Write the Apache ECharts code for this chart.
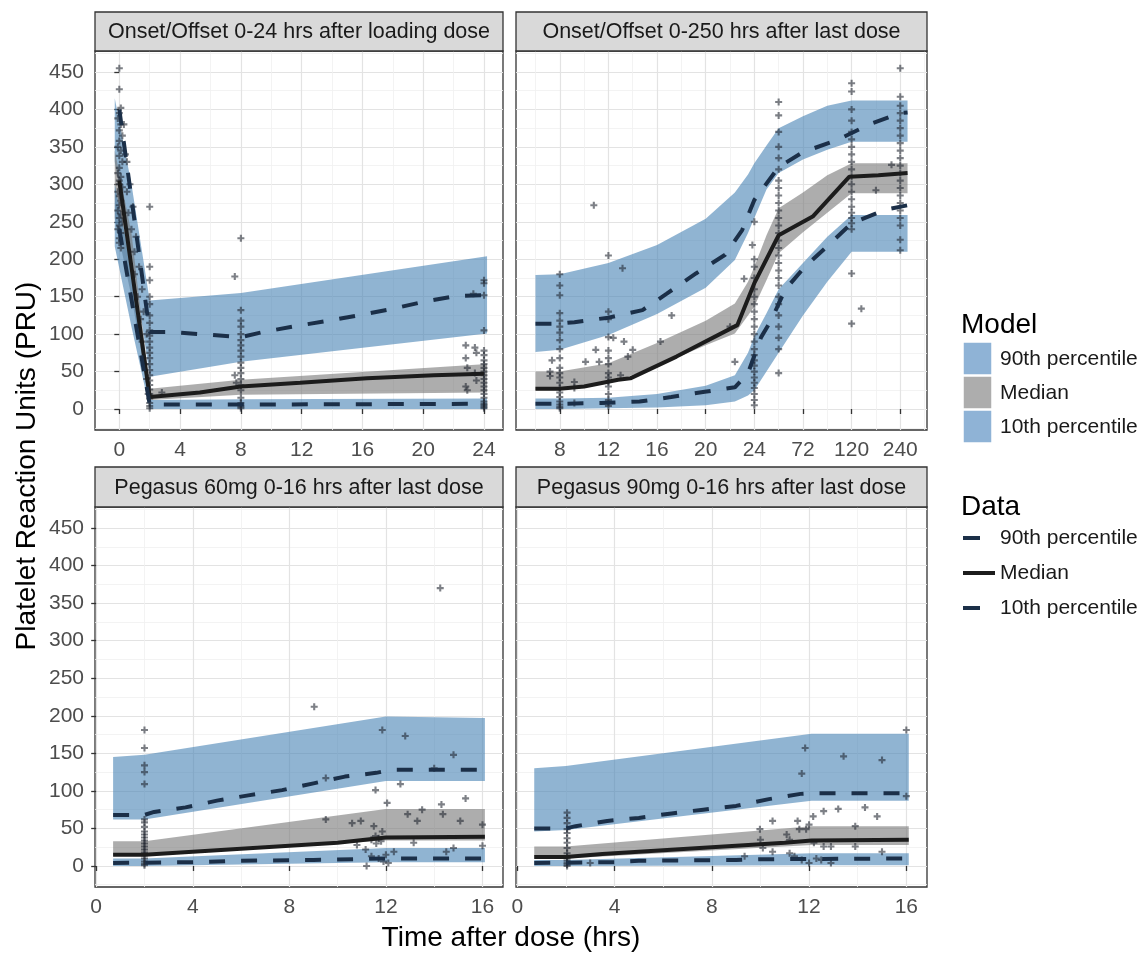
<!DOCTYPE html>
<html>
<head>
<meta charset="utf-8">
<title>Platelet Reaction Units</title>
<script src="https://cdn.jsdelivr.net/npm/echarts@6.0.0/dist/echarts.min.js"></script>
<style>
    html, body { margin: 0; padding: 0; background: #fff; }
    #main { width: 1147px; height: 954px; }
</style>
</head>
<body>
<div id="main"></div>
<script>
    // ---------- data ----------
    var panelTitles = [
        'Onset/Offset 0-24 hrs after loading dose',
        'Onset/Offset 0-250 hrs after last dose',
        'Pegasus 60mg 0-16 hrs after last dose',
        'Pegasus 90mg 0-16 hrs after last dose'
    ];
    var yTicks = [0, 50, 100, 150, 200, 250, 300, 350, 400, 450];
    var yMinor = [-25, 25, 75, 125, 175, 225, 275, 325, 375, 425, 475];

    var p1XTicks = [0, 4, 8, 12, 16, 20, 24];
    var p1XMinor = [2, 6, 10, 14, 18, 22];
    // panel 2 axis is spaced by position, one step per label
    var p2XLabels = ['8', '12', '16', '20', '24', '72', '120', '240'];
    var p2XTicks = [0, 1, 2, 3, 4, 5, 6, 7];
    var p2XMinor = [-0.5, 0.5, 1.5, 2.5, 3.5, 4.5, 5.5, 6.5, 7.5];
    var p34XTicks = [0, 4, 8, 12, 16];
    var p34XMinor = [2, 6, 10, 14];

    // panel 1: model bands
    var p1BandX = [-0.3, 0.8, 2, 8, 24.2];
    var p1M90Lo = [330, 210, 43, 63, 101];
    var p1M90Hi = [415, 300, 145, 155, 204];
    var p1M50Lo = [255, 150, 12, 19, 22];
    var p1M50Hi = [345, 235, 27, 39, 60];
    var p1M10Lo = [217, 110, 0, 0, 0];
    var p1M10Hi = [300, 190, 12, 13, 14];
    // panel 1: data percentiles
    var p1D90X = [0, 2, 3.1, 5.3, 7.4, 8, 9.5, 11.7, 13.8, 16, 17.8, 20, 22.2, 24];
    var p1D90Y = [400, 103, 103, 100, 97, 96, 103, 111, 118, 126, 133, 143, 151, 152];
    var p1D50X = [0, 2, 5.3, 8, 11.9, 16.3, 20.7, 24];
    var p1D50Y = [305, 16, 22, 30, 35, 41, 45, 47];
    var p1D10X = [0, 2, 8, 24];
    var p1D10Y = [240, 6, 6, 7];
    var p1Pts = [
        [0,455],[0,427],[0.1,402],[0,395],[-0.1,388],[0.1,380],[0,372],[0.2,365],[0,358],[-0.1,350],[0.1,345],
        [0,338],[0.2,330],[0,322],[-0.1,315],[0.1,310],[0,305],[0,300],[0.2,296],[-0.1,290],[0,284],[0.1,278],
        [0,272],[-0.1,265],[0.1,260],[0,255],[0.2,250],[0,245],[-0.1,240],[0.1,235],[0,228],[0,222],[0.1,215],
        [0.3,380],[0.4,340],[0.5,330],[0.5,290],[0.6,262],[0.7,300],[0.8,240],[0.9,270],[1,210],[1,180],[1.1,230],
        [1.2,150],[1.3,190],[1.4,120],[1.5,160],[1.5,90],[1.6,130],[1.7,60],[1.8,100],[1.8,40],[1.9,20],
        [2,270],[2,190],[2,172],[2,150],[2,140],[2,125],[2,115],[2,105],[2,98],[2,90],[2,82],[2,75],[2,68],
        [2,60],[2,52],[2,45],[2,38],[2,32],[2,26],[2,20],[2,14],[2,8],[2,4],[2,1],[2.8,22],
        [8,228],[7.6,177],[8,132],[8,118],[8,110],[8,100],[8,92],[8,85],[8,78],[8,70],[8,62],[8,55],[8,48],
        [8,40],[8,32],[8,25],[8,15],[8,8],[8,5],[8,3],[8,1],[7.6,45],[7.7,35],
        [22.8,85],[22.8,68],[22.9,55],[22.8,30],[22.9,25],[23.4,82],[23.5,75],[23.4,48],[23.5,38],[23.3,154],
        [24,172],[24,168],[24,152],[24,105],[24,78],[24,72],[24,65],[24,60],[24,55],[24,50],[24,45],[24,40],
        [24,35],[24,30],[24,25],[24,20],[24,15],[24,10],[24,7],[24,5],[24,3],[24,1]
    ];

    // panel 2: model bands (x in label positions)
    var p2BandX = [-0.5, 0, 1, 2, 3, 3.6, 3.87, 4.0, 4.25, 4.5, 5.0, 5.5, 6.0, 7.15];
    var p2M90Lo = [76, 79, 99, 127, 162, 199, 235, 255, 293, 315, 333, 346, 357, 357];
    var p2M90Hi = [179, 180, 195, 219, 254, 289, 313, 328, 352, 375, 391, 405, 412, 412];
    var p2M50Lo = [25, 25, 34, 57, 85, 101, 125, 137, 172, 208, 236, 262, 288, 288];
    var p2M50Hi = [50, 50, 61, 88, 118, 141, 170, 190, 232, 268, 289, 312, 328, 328];
    var p2M10Lo = [0, 0, 1, 2, 5, 10, 18, 25, 50, 75, 125, 170, 210, 210];
    var p2M10Hi = [14, 14, 15, 20, 31, 45, 75, 97, 128, 160, 195, 230, 259, 259];
    var p2D90X = [-0.5, 0, 0.3, 1, 1.7, 2.2, 2.8, 3.4, 3.75, 4.0, 4.5, 5.0, 5.7, 6.4, 7.0, 7.15];
    var p2D90Y = [114, 114, 116, 122, 132, 154, 181, 206, 239, 279, 323, 343, 359, 381, 395, 396];
    var p2D50X = [-0.5, 0, 0.5, 1.2, 1.45, 2.4, 3.65, 4.0, 4.5, 5.2, 5.95, 6.55, 7.15];
    var p2D50Y = [27, 27, 30, 39, 41, 70, 112, 168, 232, 257, 310, 312, 315];
    var p2D10X = [-0.5, 0, 0.85, 1.64, 2.29, 2.98, 3.6, 3.87, 4.14, 4.35, 4.63, 5.04, 5.56, 6.0, 6.69, 7.15];
    var p2D10Y = [7, 7, 8, 10, 16, 23, 29, 48, 96, 119, 159, 190, 221, 248, 266, 272];
    var p2Pts = [
        [0,180],[0,165],[0,152],[0,128],[0,118],[0,110],[0,102],[0,92],[0,80],[0,68],[0,55],[0,48],[0,42],
        [0,35],[0,28],[0,22],[0,16],[0,10],[0,6],[0,3],[0,1],[-0.2,50],[-0.2,44],[-0.16,65],[0.3,36],[0.3,28],[0.3,8],
        [0.7,272],[0.74,79],[0.53,63],[0.81,63],[1,68],[1.1,95],[1.32,90],[1.5,79],[1.29,188],[2.07,90],
        [1,205],[1,130],[1,120],[1,96],[1,78],[1,60],[1,48],[1,42],[1,36],[1,30],[1,20],[1,12],[1,8],[1,4],
        [1.25,45],[1.4,70],[2.3,125],[3.6,63],[3.79,174],[3.5,110],[3.96,219],
        [4,250],[4,200],[4,190],[4,175],[4,160],[4,150],[4,140],[4,130],[4,120],[4,110],[4,100],[4,90],[4,80],
        [4,72],[4,65],[4,58],[4,50],[4,42],[4,35],[4,28],[4,20],[4,12],[4,5],
        [4.5,410],[4.5,392],[4.5,370],[4.5,350],[4.5,335],[4.5,320],[4.5,305],[4.5,295],[4.5,285],[4.5,275],
        [4.5,265],[4.5,255],[4.5,245],[4.5,235],[4.5,225],[4.5,215],[4.5,205],[4.5,195],[4.5,185],[4.5,175],
        [4.5,165],[4.5,150],[4.5,140],[4.5,125],[4.5,110],[4.5,95],[4.5,80],[4.5,48],
        [6,435],[6,424],[6,400],[6,385],[6,370],[6,360],[6,350],[6,340],[6,330],[6,320],[6,310],[6,300],
        [6,290],[6,280],[6,270],[6,262],[6,255],[6,248],[6,240],[6,181],[6,114],[6.2,134],[6.5,292],[6.82,326],
        [7,455],[7,417],[7,405],[7,395],[7,385],[7,375],[7,365],[7,355],[7,345],[7,335],[7,325],[7,315],
        [7,305],[7,295],[7,285],[7,275],[7,265],[7,255],[7,245],[7,226],[7,212]
    ];

    // panel 3: Pegasus 60mg
    var p3BandX = [0.7, 2, 12, 16.1];
    var p3M90Lo = [62, 62, 113, 113];
    var p3M90Hi = [145, 148, 199, 197];
    var p3M50Lo = [14, 14, 34, 34];
    var p3M50Hi = [33, 33, 76, 76];
    var p3M10Lo = [0, 0, 5, 5];
    var p3M10Hi = [10, 10, 24, 24];
    var p3D90X = [0.7, 2, 2.4, 3.7, 5.0, 6.3, 7.7, 9.0, 10.3, 11.6, 12.2, 16.1];
    var p3D90Y = [68, 68, 72, 78, 87, 94, 101, 110, 119, 124, 128, 128];
    var p3D50X = [0.7, 2, 4, 6, 8, 10, 12, 16.1];
    var p3D50Y = [15, 15, 19, 23, 27, 31, 38, 39];
    var p3D10X = [0.7, 4, 6, 9, 12, 16.1];
    var p3D10Y = [4, 5, 7, 8, 10, 10];
    var p3Pts = [
        [2,181],[2,157],[2,134],[2,125],[2,109],[2,62],[2,58],[2,52],[2,46],[2,42],[2,38],[2,34],[2,30],
        [2,26],[2,22],[2,18],[2,14],[2,10],[2,6],[2,3],[2,1],
        [9.03,212],[14.25,370],[11.85,181],[12.8,173],[14.8,148],[14,130],[9.51,117],[12.6,109],[11.57,101],
        [15.3,90],[12.05,84],[14.3,82],[13.5,75],[12.9,69],[14.36,69],[9.51,62],[10.6,57],[10.96,60],[13.3,60],
        [15.08,60],[16,55],[11.5,53],[11.85,46],[11.57,40],[11.7,37],[11.4,35],[11.8,33],[11.6,30],[10.8,28],
        [13.15,31],[16,27],[14.8,24],[14.5,19],[12.33,19],[11.16,22],[11.4,13],[11.9,6],[11.2,0],[12.1,4],
        [11.7,10],[12,15]
    ];

    // panel 4: Pegasus 90mg
    var p4BandX = [0.7, 2, 12.1, 16.1];
    var p4M90Lo = [46, 48, 87, 87];
    var p4M90Hi = [130, 133, 176, 176];
    var p4M50Lo = [10, 10, 28, 28];
    var p4M50Hi = [26, 26, 53, 53];
    var p4M10Lo = [0, 0, 1, 1];
    var p4M10Hi = [8, 8, 17, 17];
    var p4D90X = [0.7, 2, 2.4, 3.7, 5.0, 6.35, 7.65, 9.0, 10.35, 11.65, 12.2, 16.1];
    var p4D90Y = [50, 50, 53, 60, 64, 70, 75, 80, 89, 96, 97, 97];
    var p4D50X = [0.7, 2, 3.5, 5, 6.5, 8, 9.5, 11, 12.1, 16.1];
    var p4D50Y = [12, 12, 16, 19, 22, 25, 28, 31, 34, 35];
    var p4D10X = [0.7, 4, 5, 9, 10, 16.1];
    var p4D10Y = [4, 5, 7, 8, 9, 10];
    var p4Pts = [
        [2.05,71],[2.05,64],[2.05,57],[2.05,49],[2.05,44],[2.05,37],[2.05,31],[2.05,24],[2.05,17],[2.05,10],
        [2.05,4],[2.05,0],[2.05,2],[2.05,7],[2.05,13],
        [16,181],[11.84,157],[13.42,146],[15,141],[11.7,123],[16,93],[3,4],[9.35,13],[9.98,49],[10.5,60],
        [10,35],[10.1,24],[10.5,19],[11.08,42],[11.2,35],[11.53,60],[11.6,49],[11.88,49],[12,55],[12.17,66],
        [12.6,73],[13.2,76],[14.3,78],[14.8,66],[13.9,53],[12.2,31],[12.6,26],[12.9,26],[13.9,26],[15,19],
        [11.2,17],[11.4,13],[11.7,8],[12,4],[12.9,4],[12.3,10],[12.5,8]
    ];

    // ---------- styles / layout ----------
    var FONT = '"Liberation Sans", Arial, sans-serif';
    var BLUE = 'rgba(70,130,180,0.6)';
    var GREY = 'rgba(118,118,118,0.6)';
    var DASH_COLOR = '#1b2f48';
    var MED_COLOR = '#1c1c1c';
    var PT_COLOR = 'rgba(30,34,45,0.72)';
    var PLUS = 'path://M3.5,0H6.5V3.5H10V6.5H6.5V10H3.5V6.5H0V3.5H3.5Z';

    var grids = [
        {left: 95, top: 51, width: 408, height: 379},
        {left: 516, top: 51, width: 411, height: 379},
        {left: 95, top: 507, width: 408, height: 380},
        {left: 516, top: 507, width: 411, height: 380}
    ];
    var xRanges = [[-1.6, 25.25], [-0.9, 7.55], [-0.05, 16.85], [-0.05, 16.85]];
    var yRange = [-28, 478];

    function zip(xs, ys) {
        return xs.map(function (x, i) { return [x, ys[i]]; });
    }
    function band(xs, lo, hi) {
        return xs.map(function (x, i) { return [x, lo[i], hi[i]]; });
    }

    var panels = [
        {xTicks: p1XTicks, xMinor: p1XMinor, bandX: p1BandX,
         m90: [p1M90Lo, p1M90Hi], m50: [p1M50Lo, p1M50Hi], m10: [p1M10Lo, p1M10Hi],
         d90: zip(p1D90X, p1D90Y), d50: zip(p1D50X, p1D50Y), d10: zip(p1D10X, p1D10Y), pts: p1Pts},
        {xTicks: p2XTicks, xMinor: p2XMinor, bandX: p2BandX,
         m90: [p2M90Lo, p2M90Hi], m50: [p2M50Lo, p2M50Hi], m10: [p2M10Lo, p2M10Hi],
         d90: zip(p2D90X, p2D90Y), d50: zip(p2D50X, p2D50Y), d10: zip(p2D10X, p2D10Y), pts: p2Pts},
        {xTicks: p34XTicks, xMinor: p34XMinor, bandX: p3BandX,
         m90: [p3M90Lo, p3M90Hi], m50: [p3M50Lo, p3M50Hi], m10: [p3M10Lo, p3M10Hi],
         d90: zip(p3D90X, p3D90Y), d50: zip(p3D50X, p3D50Y), d10: zip(p3D10X, p3D10Y), pts: p3Pts},
        {xTicks: p34XTicks, xMinor: p34XMinor, bandX: p4BandX,
         m90: [p4M90Lo, p4M90Hi], m50: [p4M50Lo, p4M50Hi], m10: [p4M10Lo, p4M10Hi],
         d90: zip(p4D90X, p4D90Y), d50: zip(p4D50X, p4D50Y), d10: zip(p4D10X, p4D10Y), pts: p4Pts}
    ];

    // band polygon drawn through the axis scales
    function bandSeries(i, data, color) {
        return {
            type: 'custom', xAxisIndex: i, yAxisIndex: i, z: 2, silent: true, clip: true,
            encode: {x: 0, y: [1, 2]},
            data: data,
            renderItem: function (params, api) {
                if (params.dataIndex !== 0) return null;
                var pts = [];
                for (var k = 0; k < data.length; k++) pts.push(api.coord([data[k][0], data[k][2]]));
                for (var m = data.length - 1; m >= 0; m--) pts.push(api.coord([data[m][0], data[m][1]]));
                return {type: 'polygon', shape: {points: pts}, style: {fill: color}};
            }
        };
    }
    function lineSeries(i, data, color, dashed) {
        return {
            type: 'line', xAxisIndex: i, yAxisIndex: i, z: 5, silent: true,
            data: data, symbol: 'none', clip: true,
            lineStyle: {color: color, width: 4, type: dashed ? [16, 16] : 'solid', cap: 'butt'}
        };
    }

    var xAxes = [], yAxes = [], series = [];
    panels.forEach(function (p, i) {
        var showY = (i === 0 || i === 2);
        xAxes.push({
            type: 'value', gridIndex: i, min: xRanges[i][0], max: xRanges[i][1],
            axisLine: {show: false},
            axisTick: {show: true, length: 5, customValues: p.xTicks, lineStyle: {color: '#333', width: 1.3}},
            axisLabel: {
                show: true, customValues: p.xTicks, margin: 10, color: '#4d4d4d', fontSize: 21, fontFamily: FONT,
                formatter: i === 1 ? function (v) { return p2XLabels[Math.round(v)]; } : '{value}'
            },
            splitLine: {show: true, lineStyle: {color: '#e3e3e3', width: 1.2}}
        });
        yAxes.push({
            type: 'value', gridIndex: i, min: yRange[0], max: yRange[1],
            axisLine: {show: false},
            axisTick: {show: showY, length: 5, customValues: yTicks, lineStyle: {color: '#333', width: 1.3}},
            axisLabel: {show: showY, customValues: yTicks, margin: 11, color: '#4d4d4d', fontSize: 21, fontFamily: FONT},
            splitLine: {show: true, lineStyle: {color: '#e3e3e3', width: 1.2}}
        });
        series.push(bandSeries(i, band(p.bandX, p.m90[0], p.m90[1]), BLUE));
        series.push(bandSeries(i, band(p.bandX, p.m50[0], p.m50[1]), GREY));
        series.push(bandSeries(i, band(p.bandX, p.m10[0], p.m10[1]), BLUE));
        series.push({
            type: 'scatter', xAxisIndex: i, yAxisIndex: i, z: 4, silent: true,
            data: p.pts, symbol: PLUS, symbolSize: 7, itemStyle: {color: PT_COLOR}
        });
        series.push(lineSeries(i, p.d90, DASH_COLOR, true));
        series.push(lineSeries(i, p.d50, MED_COLOR, false));
        series.push(lineSeries(i, p.d10, DASH_COLOR, true));
    });
    // minor grid lines on extra hidden axes
    panels.forEach(function (p, i) {
        xAxes.push({
            type: 'value', gridIndex: i, min: xRanges[i][0], max: xRanges[i][1],
            axisLine: {show: false}, axisTick: {show: false, customValues: p.xMinor},
            axisLabel: {show: false, customValues: p.xMinor},
            splitLine: {show: true, lineStyle: {color: '#f0f0f0', width: 0.8}}
        });
        yAxes.push({
            type: 'value', gridIndex: i, min: yRange[0], max: yRange[1],
            axisLine: {show: false}, axisTick: {show: false, customValues: yMinor},
            axisLabel: {show: false, customValues: yMinor},
            splitLine: {show: true, lineStyle: {color: '#f0f0f0', width: 0.8}}
        });
    });

    // strips, axis titles and legend
    var graphics = [];
    var strips = [[95, 12, 408, 39], [516, 12, 411, 39], [95, 467, 408, 40], [516, 467, 411, 40]];
    strips.forEach(function (s, i) {
        graphics.push({type: 'rect', shape: {x: s[0], y: s[1], width: s[2], height: s[3]},
            style: {fill: '#d9d9d9', stroke: '#333', lineWidth: 1.3}, z: 10});
        graphics.push({type: 'text', x: s[0] + s[2] / 2, y: s[1] + s[3] / 2 + 1, z: 11,
            style: {text: panelTitles[i], font: '21.5px ' + FONT, fill: '#1a1a1a',
                align: 'center', verticalAlign: 'middle', textAlign: 'center', textVerticalAlign: 'middle'}});
    });
    graphics.push({type: 'text', x: 511, y: 938, z: 11,
        style: {text: 'Time after dose (hrs)', font: '28px ' + FONT, fill: '#000',
            align: 'center', verticalAlign: 'middle', textAlign: 'center', textVerticalAlign: 'middle'}});
    graphics.push({type: 'text', x: 27, y: 466, rotation: Math.PI / 2, z: 11,
        style: {text: 'Platelet Reaction Units (PRU)', font: '28px ' + FONT, fill: '#000',
            align: 'center', verticalAlign: 'middle', textAlign: 'center', textVerticalAlign: 'middle'}});

    var legendLabels = ['90th percentile', 'Median', '10th percentile'];
    function legText(txt, x, y, size) {
        return {type: 'text', x: x, y: y, z: 11,
            style: {text: txt, font: size + 'px ' + FONT, fill: size > 24 ? '#000' : '#1a1a1a',
                align: 'left', verticalAlign: 'middle', textAlign: 'left', textVerticalAlign: 'middle'}};
    }
    graphics.push(legText('Model', 961, 325, 28));
    var keyColors = ['#8fb3d6', '#adadad', '#8fb3d6'];
    [342, 376, 410].forEach(function (ky, k) {
        graphics.push({type: 'rect', shape: {x: 963, y: ky, width: 29, height: 33},
            style: {fill: keyColors[k], stroke: '#fff', lineWidth: 1.5}, z: 10});
        graphics.push(legText(legendLabels[k], 1000, ky + 17, 21));
    });
    graphics.push(legText('Data', 961, 507, 28));
    [538, 573, 608].forEach(function (ly, k) {
        var dashed = k !== 1;
        graphics.push({type: 'line', shape: {x1: 963, y1: ly, x2: dashed ? 980 : 995, y2: ly},
            style: {stroke: dashed ? DASH_COLOR : MED_COLOR, lineWidth: 4}, z: 10});
        graphics.push(legText(legendLabels[k], 1000, ly, 21));
    });

    var chart = echarts.init(document.getElementById('main'), null, {renderer: 'canvas'});
    chart.setOption({
        animation: false,
        backgroundColor: '#fff',
        grid: grids.map(function (g) {
            return {left: g.left, top: g.top, width: g.width, height: g.height, containLabel: false,
                show: true, borderColor: '#333', borderWidth: 1.3, backgroundColor: '#fff'};
        }),
        xAxis: xAxes,
        yAxis: yAxes,
        series: series,
        graphic: graphics
    });
</script>
</body>
</html>
